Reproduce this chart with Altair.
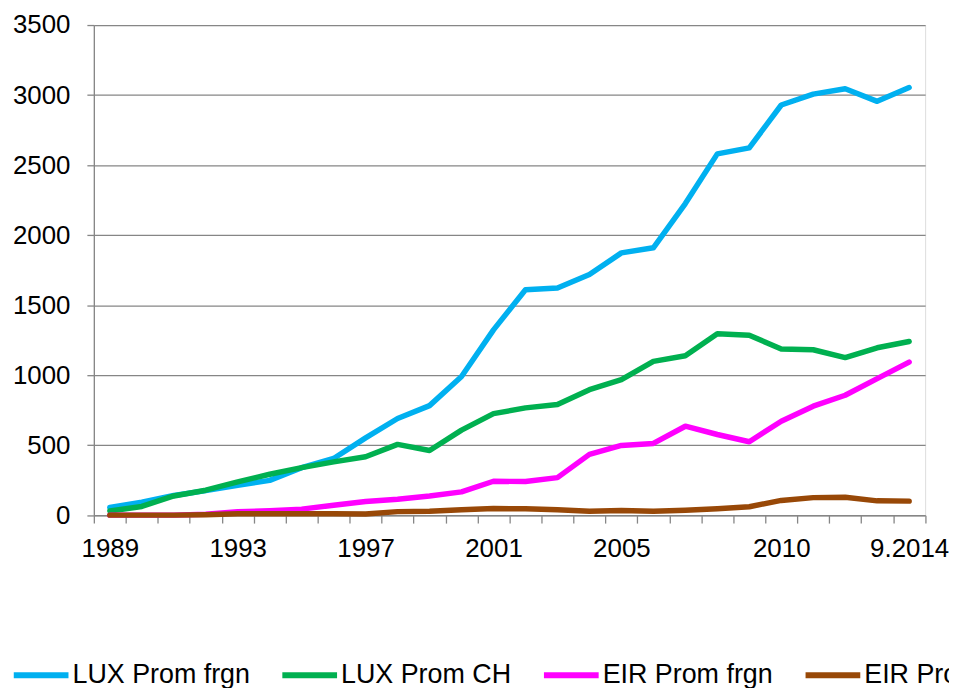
import altair as alt
import pandas as pd

categories = [str(y) for y in range(1989, 2014)] + ["9.2014"]
shown_labels = ["1989", "1993", "1997", "2001", "2005", "2010", "9.2014"]

series_names = ["LUX Prom frgn", "LUX Prom CH", "EIR Prom frgn", "EIR Prom CH"]
series_colors = ["#00B0F0", "#00B050", "#FF00FF", "#984807"]

lux_frgn = [55, 92, 140, 175, 213, 248, 339, 405, 552, 690, 782, 990, 1323,
            1610, 1622, 1719, 1873, 1909, 2225, 2580, 2623, 2929, 3007, 3045, 2955, 3054]
lux_ch = [30, 62, 137, 178, 237, 292, 339, 380, 417, 505, 462, 607, 725,
          766, 790, 896, 967, 1098, 1138, 1295, 1285, 1186, 1181, 1125, 1195, 1240]
eir_frgn = [0, 0, 0, 7, 24, 31, 43, 71, 97, 114, 137, 166, 242,
            240, 268, 434, 498, 512, 635, 576, 524, 671, 778, 856, 975, 1093]
eir_ch = [0, 0, 0, 3, 10, 10, 10, 10, 8, 25, 28, 38, 47,
          45, 38, 28, 33, 28, 35, 45, 60, 105, 125, 128, 102, 100]

y_ticks = [0, 500, 1000, 1500, 2000, 2500, 3000, 3500]

all_series = [lux_frgn, lux_ch, eir_frgn, eir_ch]
rows = []
for name, vals in zip(series_names, all_series):
    for i, v in enumerate(vals):
        rows.append({"series": name, "idx": i, "cat": categories[i], "value": v})
df = pd.DataFrame(rows)

n = len(categories)
label_idx = [categories.index(c) for c in shown_labels]
boundaries = [i - 0.5 for i in range(n + 1)]
x_values = sorted(boundaries + label_idx)

label_map = "{" + ",".join(f"'{i}':'{categories[i]}'" for i in label_idx) + "}"
label_expr = f"({label_map})[toString(datum.value)] || ''"

FONT = "Liberation Sans"
GRAY = "#868686"

x_enc = alt.X(
    "idx:Q",
    scale=alt.Scale(domain=[-0.5, n - 0.5], nice=False, zero=False),
    axis=alt.Axis(
        title=None,
        values=x_values,
        labelExpr=label_expr,
        labelOverlap=False,
        labelFont=FONT,
        labelFontSize=26,
        labelColor="black",
        labelPadding=13,
        labelFlush=False,
        tickSize=8,
        tickColor=GRAY,
        tickWidth=1.3,
        tickOpacity={"condition": {"test": "floor(datum.value) == datum.value", "value": 0}, "value": 1},
        domainColor=GRAY,
        domainWidth=1.3,
        grid=False,
    ),
)

y_enc = alt.Y(
    "value:Q",
    scale=alt.Scale(domain=[0, 3500], nice=False),
    axis=alt.Axis(
        title=None,
        values=y_ticks,
        format="d",
        labelFont=FONT,
        labelFontSize=26,
        labelColor="black",
        labelPadding=17,
        tickSize=7,
        tickColor=GRAY,
        tickWidth=1.3,
        domainColor=GRAY,
        domainWidth=1.3,
        grid=True,
        gridColor=GRAY,
        gridWidth=1.3,
    ),
)

color_enc = alt.Color(
    "series:N",
    scale=alt.Scale(domain=series_names, range=series_colors),
    sort=series_names,
    legend=alt.Legend(
        title=None,
        orient="none",
        legendX=-83.5,
        legendY=623,
        direction="horizontal",
        symbolType="stroke",
        symbolSize=3025,
        symbolStrokeWidth=6,
        labelFont=FONT,
        labelFontSize=27,
        labelColor="black",
        labelOffset=1,
        columnPadding=20,
        padding=0,
        labelLimit=400,
    ),
)

layers = []
for name in series_names:
    layers.append(
        alt.Chart(df)
        .transform_filter(alt.datum.series == name)
        .mark_line(strokeWidth=5.5, strokeCap="round", strokeJoin="round")
        .encode(x=x_enc, y=y_enc, color=color_enc)
    )

chart = (
    alt.layer(*layers)
    .properties(
        width=835.7,
        height=492.7,
        autosize=alt.AutoSizeParams(type="none"),
        padding={"left": 86.3, "top": 15.3, "right": 24, "bottom": 182},
    )
    .configure_view(stroke=None)
    .configure(background="white")
)

chart.save("out.html", embed_options={"renderer": "svg", "actions": False})
